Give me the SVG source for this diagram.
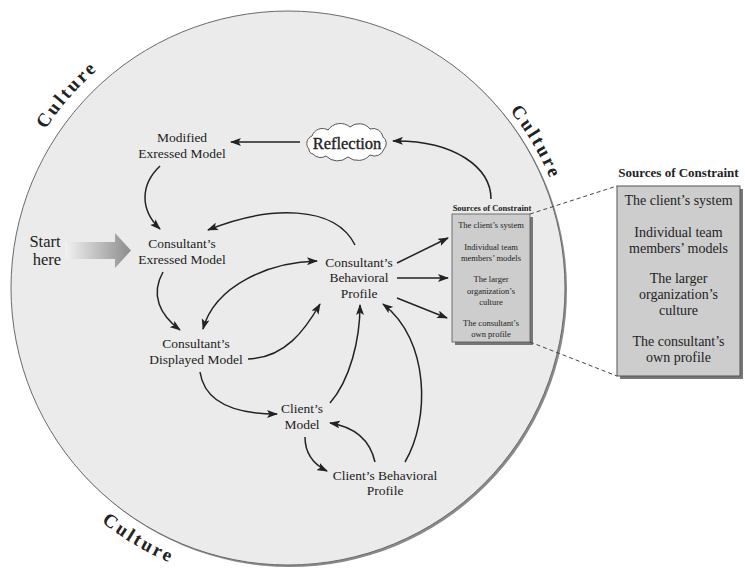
<svg xmlns="http://www.w3.org/2000/svg" width="745" height="568" viewBox="0 0 745 568">
<defs>
<style>
.t{font-family:"Liberation Serif","Times New Roman",serif;fill:#222;text-anchor:middle}
.n{font-size:13.5px}
.c{font-size:19px;font-weight:bold;letter-spacing:2.6px}
.s{font-size:8.5px}
.sb{font-size:8.5px;font-weight:bold}
.b{font-size:14px}
.bb{font-size:13px;font-weight:bold}
.e{fill:none;stroke:#222;stroke-width:1.5}
.d{fill:none;stroke:#444;stroke-width:1;stroke-dasharray:4 3}
</style>
<marker id="ah" markerWidth="11" markerHeight="8" refX="10" refY="4" orient="auto-start-reverse" markerUnits="userSpaceOnUse">
<path d="M0,0 L11,4 L0,8 L2.5,4 z" fill="#222"/>
</marker>
<linearGradient id="g" x1="0" y1="0" x2="1" y2="0">
<stop offset="0" stop-color="#f2f2f2"/>
<stop offset="1" stop-color="#8c8c8c"/>
</linearGradient>
<path id="p1" d="M15.5,188.8 A292,292 0 0 1 165.4,25.2"/>
<path id="p2" d="M470.5,70.4 A284,284 0 0 1 567.7,238.7"/>
<path id="p3" d="M59,480.2 A299,299 0 0 0 236.1,582.5"/>
</defs>
<rect width="745" height="568" fill="#fff"/>
<g id="circle">
<circle cx="290" cy="290" r="277" fill="#8a8a8a"/>
<circle cx="288" cy="288" r="277" fill="#ebebeb" stroke="#6a6a6a" stroke-width="1"/>
</g>
<g id="culture-labels">
<text class="t c"><textPath href="#p1" startOffset="107">Culture</textPath></text>
<text class="t c"><textPath href="#p2" startOffset="97">Culture</textPath></text>
<text class="t c"><textPath href="#p3" startOffset="100">Culture</textPath></text>
</g>
<g id="start-here">
<path d="M65,242 L115,242 L115,233 L131,250.5 L115,268 L115,259 L65,259 z" fill="url(#g)"/>
<text class="t" style="font-size:16.5px" x="45" y="246.5">Start</text>
<text class="t" style="font-size:16.5px" x="47" y="264.5">here</text>
</g>
<g id="reflection">
<path d="M309,149 A8,8 0 0 1 312,136 A11,11 0 0 1 328,130 A15,15 0 0 1 350,127 A14,14 0 0 1 370,129 A10,10 0 0 1 383,137 A8,8 0 0 1 384,149 A10,10 0 0 1 370,155 A16,16 0 0 1 348,157 A16,16 0 0 1 326,156 A10,10 0 0 1 313,154 A5,5 0 0 1 309,149 z" fill="#fff" stroke="#555" stroke-width="1"/>
<text class="t" style="font-size:16.5px;stroke:#222;stroke-width:0.35" x="347" y="148.5">Reflection</text>
</g>
<g id="modified-expressed-model">
<text class="t n" x="182" y="141.5">Modified</text>
<text class="t n" x="182" y="158">Exressed Model</text>
</g>
<g id="consultants-expressed-model">
<text class="t n" x="182" y="248">Consultant’s</text>
<text class="t n" x="182" y="263.5">Exressed Model</text>
</g>
<g id="consultants-behavioral-profile">
<text class="t n" x="359" y="266.5">Consultant’s</text>
<text class="t n" x="359" y="282">Behavioral</text>
<text class="t n" x="359" y="297.5">Profile</text>
</g>
<g id="consultants-displayed-model">
<text class="t n" x="196" y="347.5">Consultant’s</text>
<text class="t n" x="196" y="363.5">Displayed Model</text>
</g>
<g id="clients-model">
<text class="t n" x="302" y="413">Client’s</text>
<text class="t n" x="302" y="429">Model</text>
</g>
<g id="clients-behavioral-profile">
<text class="t n" x="385" y="479.5">Client’s Behavioral</text>
<text class="t n" x="385" y="495">Profile</text>
</g>
<g id="sources-small">
<text class="t sb" x="492" y="211">Sources of Constraint</text>
<rect x="455" y="217" width="78" height="128" fill="#777"/>
<rect x="452" y="214" width="78" height="128" fill="#cdcdcd" stroke="#555" stroke-width="0.8"/>
<text class="t s" x="491" y="228">The client’s system</text>
<text class="t s" x="491" y="250">Individual team</text>
<text class="t s" x="491" y="261">members’ models</text>
<text class="t s" x="491" y="282">The larger</text>
<text class="t s" x="491" y="293.5">organization’s</text>
<text class="t s" x="491" y="304.5">culture</text>
<text class="t s" x="491" y="325.5">The consultant’s</text>
<text class="t s" x="491" y="337">own profile</text>
</g>
<g id="sources-large">
<text class="t bb" x="678.5" y="177">Sources of Constraint</text>
<rect x="620" y="189" width="123" height="190" fill="#777"/>
<rect x="617" y="186" width="123" height="190" fill="#cdcdcd" stroke="#555" stroke-width="1"/>
<text class="t b" x="678.5" y="205">The client’s system</text>
<text class="t b" x="678.5" y="237">Individual team</text>
<text class="t b" x="678.5" y="253">members’ models</text>
<text class="t b" x="678.5" y="283">The larger</text>
<text class="t b" x="678.5" y="299">organization’s</text>
<text class="t b" x="678.5" y="315">culture</text>
<text class="t b" x="678.5" y="346">The consultant’s</text>
<text class="t b" x="678.5" y="362">own profile</text>
</g>
<g id="connectors">
<path class="d" d="M530,214 L617,186"/>
<path class="d" d="M530,342 L617,376"/>
<path class="e" d="M300,142 L231,142" marker-end="url(#ah)"/>
<path class="e" d="M491,199 C491,168 455,140 393,141" marker-end="url(#ah)"/>
<path class="e" d="M160,166 C140,185 140,210 160,229" marker-end="url(#ah)"/>
<path class="e" d="M355,245 C335,205 270,205 208,230" marker-end="url(#ah)"/>
<path class="e" d="M163,272 C150,295 160,315 180,330" marker-end="url(#ah)"/>
<path class="e" d="M317,261 C270,262 215,285 203,329" marker-start="url(#ah)" marker-end="url(#ah)"/>
<path class="e" d="M248,359 C285,358 305,330 320,304" marker-end="url(#ah)"/>
<path class="e" d="M200,372 C205,405 240,414 277,414" marker-end="url(#ah)"/>
<path class="e" d="M330,403 C350,380 360,340 360,305" marker-end="url(#ah)"/>
<path class="e" d="M405,462 C430,420 430,340 383,304" marker-end="url(#ah)"/>
<path class="e" d="M305,437 C305,455 315,465 327,471" marker-end="url(#ah)"/>
<path class="e" d="M375,462 C370,440 355,427 330,423" marker-end="url(#ah)"/>
<path class="e" d="M397,263 L448,238" marker-end="url(#ah)"/>
<path class="e" d="M397,278 L448,278" marker-end="url(#ah)"/>
<path class="e" d="M397,298 L447,318" marker-end="url(#ah)"/>
</g>
</svg>
